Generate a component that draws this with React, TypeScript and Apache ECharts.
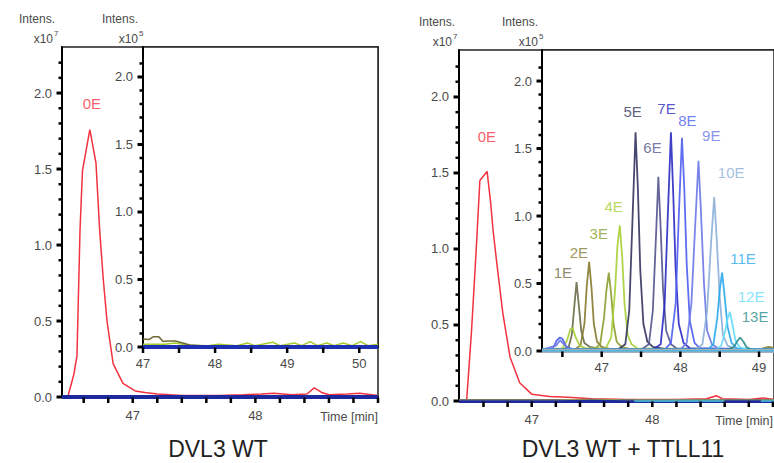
import React, { useEffect, useRef } from 'react';
import * as echarts from 'echarts';

type P = [number, number];

// ---------- tick values ----------
const OUTER_X_TICKS = [46.6, 46.8, 47, 47.2, 47.4, 47.6, 47.8, 48, 48.2, 48.4, 48.6, 48.8, 49];
const OUTER_X_LABELS = [47, 48];
const LEFT_INSET_X_TICKS = [47, 47.5, 48, 48.5, 49, 49.5, 50];
const LEFT_INSET_X_LABELS = [47, 48, 49, 50];
const RIGHT_INSET_X_TICKS = [46.5, 47, 47.5, 48, 48.5, 49];
const RIGHT_INSET_X_LABELS = [47, 48, 49];
const Y_MAJOR = [0, 0.5, 1, 1.5, 2];
const OUTER_Y_MINOR = [0.1, 0.2, 0.3, 0.4, 0.6, 0.7, 0.8, 0.9, 1.1, 1.2, 1.3, 1.4, 1.6, 1.7, 1.8, 1.9, 2.1, 2.2];
const INSET_Y_MINOR = [0.1, 0.2, 0.3, 0.4, 0.6, 0.7, 0.8, 0.9, 1.1, 1.2, 1.3, 1.4, 1.6, 1.7, 1.8, 1.9, 2.1];

// ---------- left panel (DVL3 WT) ----------
const LEFT_MAIN_0E: P[] = [
  [46.423, 0], [46.47, 0], [46.52, 0.15], [46.545, 0.27], [46.57, 1.1], [46.59, 1.49], [46.65, 1.76],
  [46.7, 1.54], [46.73, 1.1], [46.76, 0.77], [46.79, 0.5], [46.84, 0.22], [46.92, 0.09], [47.02, 0.04],
  [47.1, 0.03], [47.2, 0.02], [47.4, 0.01], [47.7, 0.01], [47.9, 0.015], [48.05, 0.02], [48.15, 0.025],
  [48.3, 0.015], [48.42, 0.02], [48.48, 0.06], [48.54, 0.03], [48.6, 0.015], [48.75, 0.02], [48.85, 0.025], [49.0, 0.01],
];
const LEFT_MAIN_BASE: P[] = [[46.423, 0], [49.0, 0]];
const LEFT_INSET_OLIVE: P[] = [
  [47.0, 0.06], [47.08, 0.055], [47.14, 0.075], [47.22, 0.075], [47.28, 0.04], [47.34, 0.045], [47.45, 0.045],
  [47.55, 0.03], [47.65, 0.015], [47.8, 0.01], [48.0, 0.01], [48.4, 0.01], [48.8, 0.01], [49.3, 0.01], [49.8, 0.01], [50.26, 0.01],
];
const LEFT_INSET_GREEN: P[] = [
  [47.0, 0.02], [47.3, 0.02], [47.45, 0.03], [47.6, 0.015], [47.9, 0.01], [48.05, 0.02], [48.3, 0.01], [48.45, 0.03],
  [48.55, 0.01], [48.8, 0.035], [48.9, 0.01], [49.1, 0.03], [49.2, 0.01], [49.32, 0.04], [49.42, 0.01], [49.55, 0.03],
  [49.65, 0.01], [49.78, 0.03], [49.9, 0.01], [50.02, 0.04], [50.12, 0.01], [50.26, 0.02],
];
const LEFT_INSET_BASE: P[] = [[47.0, 0], [50.26, 0]];

// ---------- right panel (DVL3 WT + TTLL11) ----------
const RIGHT_MAIN_0E: P[] = [
  [46.397, 0], [46.46, 0], [46.5, 0.45], [46.54, 1.0], [46.57, 1.45], [46.63, 1.51], [46.66, 1.3], [46.68, 1.12],
  [46.71, 0.91], [46.76, 0.58], [46.82, 0.29], [46.9, 0.12], [47.0, 0.045], [47.15, 0.03], [47.3, 0.025],
  [47.5, 0.015], [47.8, 0.01], [48.2, 0.01], [48.45, 0.015], [48.53, 0.035], [48.58, 0.015], [48.8, 0.01], [48.92, 0.02], [49.01, 0.01],
];
const RIGHT_MAIN_BASE: P[] = [[46.397, 0], [49.01, 0]];
const RIGHT_MAIN_OLIVE: P[] = [[46.397, 0.008], [47.2, 0.008], [47.5, 0.012], [47.8, 0.008], [49.01, 0.008]];
const RIGHT_MAIN_CYAN: P[] = [[47.85, 0.002], [48.6, 0.002], [48.6, null as any], [48.9, 0.002], [49.01, 0.002]];

const RI_1E: P[] = [
  [46.241, 0.01], [46.5, 0.01], [46.58, 0.03], [46.62, 0.12], [46.65, 0.32], [46.68, 0.51], [46.71, 0.33],
  [46.74, 0.15], [46.78, 0.06], [46.85, 0.03], [46.95, 0.02], [47.2, 0.01], [49.19, 0.01],
];
const RI_2E: P[] = [
  [46.241, 0.01], [46.65, 0.01], [46.73, 0.04], [46.78, 0.2], [46.81, 0.48], [46.84, 0.66], [46.87, 0.47],
  [46.9, 0.2], [46.94, 0.07], [47.0, 0.03], [47.1, 0.015], [49.0, 0.01], [49.08, 0.025], [49.13, 0.03], [49.19, 0.02],
];
const RI_3E: P[] = [
  [46.241, 0.01], [46.9, 0.01], [46.98, 0.05], [47.03, 0.25], [47.06, 0.45], [47.09, 0.58], [47.12, 0.42],
  [47.15, 0.2], [47.19, 0.07], [47.25, 0.03], [47.35, 0.015], [49.19, 0.01],
];
const RI_4E: P[] = [
  [46.241, 0.01], [46.5, 0.02], [46.56, 0.08], [46.6, 0.16], [46.63, 0.17], [46.67, 0.1], [46.72, 0.04],
  [46.8, 0.02], [47.05, 0.02], [47.12, 0.1], [47.17, 0.45], [47.2, 0.78], [47.23, 0.93], [47.26, 0.7],
  [47.29, 0.35], [47.33, 0.12], [47.38, 0.05], [47.45, 0.02], [49.19, 0.01],
];
const RI_5E: P[] = [
  [46.241, 0.01], [47.2, 0.01], [47.3, 0.05], [47.35, 0.3], [47.39, 0.95], [47.43, 1.62], [47.46, 1.2],
  [47.49, 0.6], [47.53, 0.2], [47.58, 0.07], [47.65, 0.03], [47.8, 0.015], [49.19, 0.01],
];
const RI_6E: P[] = [
  [46.241, 0.01], [47.5, 0.01], [47.6, 0.05], [47.65, 0.3], [47.69, 0.85], [47.72, 1.29], [47.75, 0.9],
  [47.78, 0.45], [47.82, 0.15], [47.88, 0.05], [47.95, 0.02], [49.19, 0.01],
];
const RI_7E: P[] = [
  [46.241, 0.01], [47.65, 0.01], [47.75, 0.05], [47.8, 0.35], [47.84, 1.0], [47.88, 1.62], [47.91, 1.15],
  [47.94, 0.6], [47.98, 0.2], [48.04, 0.06], [48.12, 0.02], [49.19, 0.01],
];
const RI_8E: P[] = [
  [46.241, 0.01], [46.38, 0.02], [46.43, 0.08], [46.47, 0.1], [46.5, 0.09], [46.55, 0.03], [46.65, 0.01],
  [47.8, 0.01], [47.88, 0.06], [47.94, 0.35], [47.98, 1.0], [48.02, 1.58], [48.05, 1.2], [48.08, 0.65],
  [48.12, 0.22], [48.18, 0.06], [48.25, 0.02], [49.19, 0.01],
];
const RI_9E: P[] = [
  [46.241, 0.01], [46.42, 0.04], [46.47, 0.08], [46.52, 0.05], [46.6, 0.01], [48.0, 0.01], [48.08, 0.06],
  [48.14, 0.35], [48.19, 0.95], [48.23, 1.41], [48.26, 1.05], [48.3, 0.5], [48.34, 0.15], [48.4, 0.05],
  [48.48, 0.02], [49.19, 0.01],
];
const RI_10E: P[] = [
  [46.241, 0.01], [48.2, 0.01], [48.28, 0.05], [48.34, 0.3], [48.39, 0.8], [48.43, 1.14], [48.46, 0.85],
  [48.5, 0.4], [48.54, 0.12], [48.6, 0.04], [48.7, 0.015], [49.19, 0.01],
];
const RI_11E: P[] = [
  [46.241, 0.01], [48.35, 0.01], [48.42, 0.05], [48.47, 0.25], [48.5, 0.45], [48.53, 0.58], [48.56, 0.42],
  [48.6, 0.18], [48.65, 0.06], [48.72, 0.02], [49.19, 0.01],
];
const RI_12E: P[] = [
  [46.241, 0.01], [48.45, 0.01], [48.52, 0.04], [48.57, 0.15], [48.6, 0.24], [48.63, 0.29], [48.66, 0.2],
  [48.7, 0.08], [48.75, 0.03], [48.85, 0.01], [49.19, 0.01],
];
const RI_13E: P[] = [
  [46.241, 0.01], [48.6, 0.01], [48.68, 0.03], [48.72, 0.07], [48.76, 0.1], [48.8, 0.07], [48.84, 0.03],
  [48.9, 0.01], [49.19, 0.01],
];
const RIGHT_INSET_BASE: P[] = [[46.241, 0], [49.19, 0]];

const PEAK_NAMES = ['1E', '2E', '3E', '4E', '5E', '6E', '7E', '8E', '9E', '10E', '11E', '12E', '13E'];
const PEAK_COLORS = ['#6c6c46', '#857a2e', '#8c9c2c', '#a6cf36', '#34345e', '#54548e', '#2a2ac2', '#4d5def', '#6a78e6', '#8cb0d8', '#2aa8ec', '#66dcfa', '#2a8f88'];
const PEAK_LABEL_T = [46.506, 46.709, 46.962, 47.152, 47.392, 47.646, 47.823, 48.089, 48.392, 48.646, 48.797, 48.899, 48.949];
const PEAK_LABEL_V = [0.578, 0.733, 0.867, 1.074, 1.778, 1.511, 1.793, 1.704, 1.593, 1.326, 0.689, 0.407, 0.259];
const RIGHT_INSET_TRACES = [RI_1E, RI_2E, RI_3E, RI_4E, RI_5E, RI_6E, RI_7E, RI_8E, RI_9E, RI_10E, RI_11E, RI_12E, RI_13E];

const ZERO_E_LABEL_LEFT: P = [46.667, 1.934];
const ZERO_E_LABEL_RIGHT: P = [46.628, 1.743];

// axis extents [min, max]
const LEFT_MAIN_X: P = [46.423, 49.0];
const LEFT_INSET_X: P = [47.0, 50.26];
const RIGHT_MAIN_X: P = [46.397, 49.009];
const RIGHT_INSET_X: P = [46.241, 49.19];

const FONT = 'Liberation Sans, Arial, Helvetica, sans-serif';
const RED = '#f2333f';
const AX = '#000';
const LBL = '#4a4a4a';

function xAx(grid: number, ext: P, labels: number[], margin: number) {
  return {
    type: 'value', gridIndex: grid, min: ext[0], max: ext[1], position: 'bottom',
    axisLine: { show: true, onZero: false, lineStyle: { color: AX, width: 2 } },
    axisTick: { show: false },
    axisLabel: { show: true, customValues: labels, margin, color: LBL, fontSize: 13, fontFamily: FONT, formatter: (v: number) => String(Math.round(v)) },
    splitLine: { show: false },
  };
}
function yAx(grid: number, max: number, margin: number) {
  return {
    type: 'value', gridIndex: grid, min: 0, max, position: 'left',
    axisLine: { show: true, onZero: false, lineStyle: { color: AX, width: 2 } },
    axisTick: { show: false },
    axisLabel: { show: true, customValues: Y_MAJOR, margin, color: LBL, fontSize: 13, fontFamily: FONT, formatter: (v: number) => v.toFixed(1) },
    splitLine: { show: false },
  };
}
function line(data: P[], xi: number, yi: number, color: string, width: number, opacity = 1) {
  return {
    type: 'line', xAxisIndex: xi, yAxisIndex: yi, data, symbol: 'none', silent: true, clip: true,
    lineStyle: { color, width, opacity }, connectNulls: false,
  };
}
// tick marks through a custom series: api.coord gives the axis' pixel for each tick value
function tickSeries(xi: number, yi: number, pts: P[], horizontal: boolean, len: number, thick: number) {
  return {
    type: 'custom', xAxisIndex: xi, yAxisIndex: yi, silent: true, clip: false, z: 30,
    data: pts,
    renderItem: (_params: any, api: any) => {
      const c = api.coord([api.value(0), api.value(1)]);
      const shape = horizontal
        ? { x: c[0] - thick / 2, y: c[1] + 0.5, width: thick, height: len + 0.5 }
        : { x: c[0] - 0.5 - len, y: c[1] - thick / 2, width: len + 0.5, height: thick };
      return { type: 'rect', shape, style: { fill: AX } };
    },
  };
}

export default function App() {
  const ref = useRef<HTMLDivElement>(null);
  useEffect(() => {
    if (!ref.current) return;
    const chart = echarts.init(ref.current, undefined, { renderer: 'svg' });
    const series: any[] = [];
    series.push(line(LEFT_MAIN_0E, 0, 0, RED, 1.5));
    series.push(line(LEFT_MAIN_BASE, 0, 0, '#1d2a9e', 4));
    series.push(line(LEFT_INSET_GREEN, 1, 1, '#a4cc2e', 1.5));
    series.push(line(LEFT_INSET_OLIVE, 1, 1, '#6e6a30', 1.5));
    series.push(line(LEFT_INSET_BASE, 1, 1, '#1f2fb4', 4));
    series.push(line(RIGHT_MAIN_0E, 2, 2, RED, 1.5));
    series.push(line(RIGHT_MAIN_BASE, 2, 2, '#1d2a9e', 4));
    series.push(line(RIGHT_MAIN_CYAN, 2, 2, '#3aa8d8', 2.5));
    series.push(line(RIGHT_MAIN_OLIVE, 2, 2, '#9a9a50', 1));
    RIGHT_INSET_TRACES.forEach((tr, i) => series.push(line(tr, 3, 3, PEAK_COLORS[i], 1.8, 0.9)));
    series.push(line(RIGHT_INSET_BASE, 3, 3, '#a6b0ba', 4));
    series.push(line(RIGHT_INSET_BASE, 3, 3, '#3cb4e4', 1.5));

    const xT = (list: number[]): P[] => list.map((t) => [t, 0]);
    const yT = (x: number, list: number[]): P[] => list.map((v) => [x, v]);
    series.push(tickSeries(0, 0, xT(OUTER_X_TICKS), true, 5, 2.5));
    series.push(tickSeries(1, 1, xT(LEFT_INSET_X_TICKS), true, 5, 2.5));
    series.push(tickSeries(2, 2, xT(OUTER_X_TICKS), true, 5, 2.5));
    series.push(tickSeries(3, 3, xT(RIGHT_INSET_X_TICKS), true, 5, 2.5));
    series.push(tickSeries(0, 0, yT(LEFT_MAIN_X[0], Y_MAJOR), false, 5, 3));
    series.push(tickSeries(0, 0, yT(LEFT_MAIN_X[0], OUTER_Y_MINOR), false, 3, 2.5));
    series.push(tickSeries(1, 1, yT(LEFT_INSET_X[0], Y_MAJOR), false, 5, 3));
    series.push(tickSeries(1, 1, yT(LEFT_INSET_X[0], INSET_Y_MINOR), false, 3, 2.5));
    series.push(tickSeries(2, 2, yT(RIGHT_MAIN_X[0], Y_MAJOR), false, 5, 3));
    series.push(tickSeries(2, 2, yT(RIGHT_MAIN_X[0], OUTER_Y_MINOR), false, 3, 2.5));
    series.push(tickSeries(3, 3, yT(RIGHT_INSET_X[0], Y_MAJOR), false, 5, 3));
    series.push(tickSeries(3, 3, yT(RIGHT_INSET_X[0], INSET_Y_MINOR), false, 3, 2.5));

    series.push({
      type: 'scatter', xAxisIndex: 3, yAxisIndex: 3, symbolSize: 0, silent: true, clip: false, z: 10,
      data: PEAK_NAMES.map((n, i) => ({ name: n, value: [PEAK_LABEL_T[i], PEAK_LABEL_V[i]], label: { color: PEAK_COLORS[i] } })),
      label: { show: true, position: 'inside', formatter: '{b}', fontSize: 15, fontFamily: FONT },
    });
    series.push({
      type: 'scatter', xAxisIndex: 0, yAxisIndex: 0, symbolSize: 0, silent: true, clip: false, z: 10,
      data: [{ name: '0E', value: ZERO_E_LABEL_LEFT }],
      label: { show: true, position: 'inside', formatter: '{b}', fontSize: 15, fontFamily: FONT, color: RED },
    });
    series.push({
      type: 'scatter', xAxisIndex: 2, yAxisIndex: 2, symbolSize: 0, silent: true, clip: false, z: 10,
      data: [{ name: '0E', value: ZERO_E_LABEL_RIGHT }],
      label: { show: true, position: 'inside', formatter: '{b}', fontSize: 15, fontFamily: FONT, color: RED },
    });

    const txt = (x: number, y: number, text: string, size: number, align: string, color = LBL) => ({
      type: 'text', x, y, silent: true, z: 20,
      style: { text, fontSize: size, fontFamily: FONT, fill: color, align, verticalAlign: 'middle' },
    });

    chart.setOption({
      animation: false,
      backgroundColor: '#fff',
      textStyle: { fontFamily: FONT },
      grid: [
        { left: 62, top: 47, width: 316, height: 350, show: true, borderColor: '#222', borderWidth: 1.5, backgroundColor: '#fff' },
        { left: 143, top: 47, width: 235, height: 300, show: true, borderColor: '#222', borderWidth: 1.5, backgroundColor: '#fff' },
        { left: 459, top: 50, width: 316, height: 351, show: true, borderColor: '#222', borderWidth: 1.5, backgroundColor: '#fff' },
        { left: 542, top: 50, width: 233, height: 301, show: true, borderColor: '#222', borderWidth: 1.5, backgroundColor: '#fff' },
      ],
      xAxis: [
        xAx(0, LEFT_MAIN_X, OUTER_X_LABELS, 12),
        xAx(1, LEFT_INSET_X, LEFT_INSET_X_LABELS, 10),
        xAx(2, RIGHT_MAIN_X, OUTER_X_LABELS, 12),
        xAx(3, RIGHT_INSET_X, RIGHT_INSET_X_LABELS, 10),
      ],
      yAxis: [
        yAx(0, 2.303, 10),
        yAx(1, 2.222, 10),
        yAx(2, 2.309, 10),
        yAx(3, 2.23, 10),
      ],
      series,
      graphic: [
        txt(55, 19, 'Intens.', 12, 'right'),
        txt(53, 39, 'x10', 12, 'right'),
        txt(54, 33, '7', 8, 'left'),
        txt(138, 19, 'Intens.', 12, 'right'),
        txt(138, 39, 'x10', 12, 'right'),
        txt(139, 33, '5', 8, 'left'),
        txt(455, 22, 'Intens.', 12, 'right'),
        txt(452, 42, 'x10', 12, 'right'),
        txt(453, 36, '7', 8, 'left'),
        txt(538, 22, 'Intens.', 12, 'right'),
        txt(538, 42, 'x10', 12, 'right'),
        txt(539, 36, '5', 8, 'left'),
        txt(378, 417, 'Time [min]', 12.5, 'right'),
        txt(773, 421, 'Time [min]', 12.5, 'right'),
        txt(218, 449, 'DVL3 WT', 23, 'center', '#222'),
        txt(623, 449, 'DVL3 WT + TTLL11', 23, 'center', '#222'),
      ],
    });
    return () => chart.dispose();
  }, []);
  return <div ref={ref} style={{ position: 'absolute', left: 0, top: 0, width: 774, height: 463 }} />;
}
